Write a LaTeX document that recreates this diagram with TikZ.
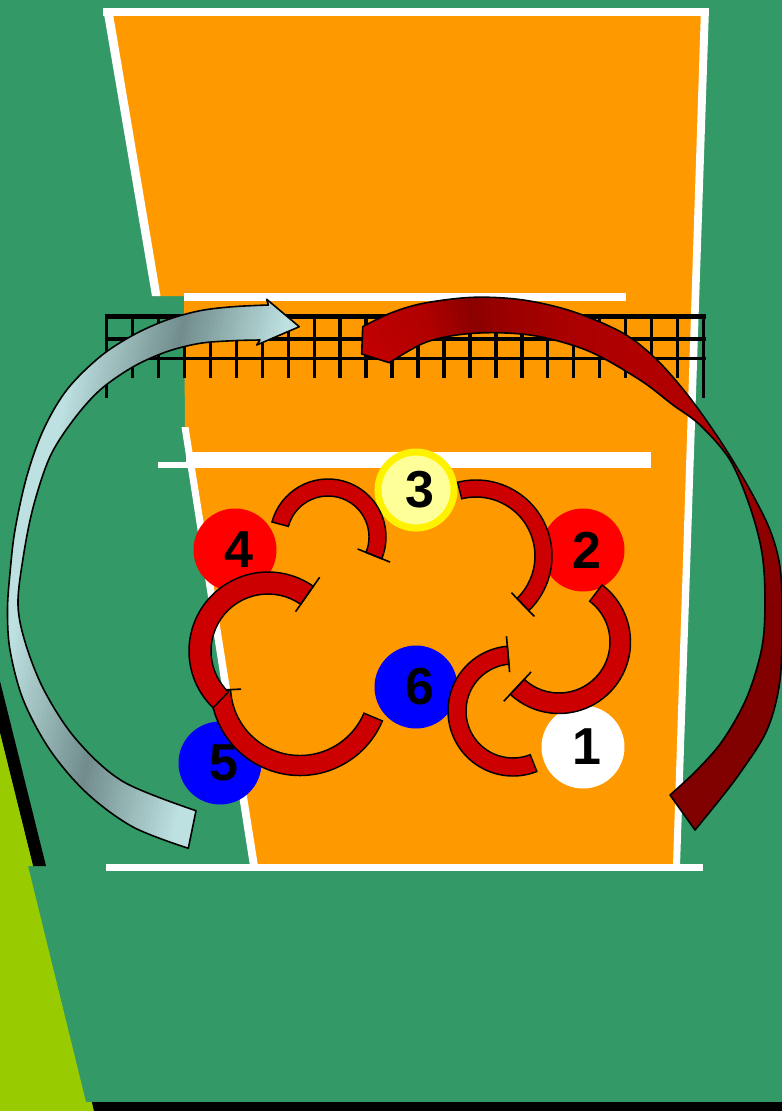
\documentclass[tikz,border=0pt]{standalone}
\usepackage{fontspec}
\setmainfont{Liberation Sans}
\usetikzlibrary{calc}
\definecolor{bggreen}{HTML}{339966}
\definecolor{limegreen}{HTML}{99CC00}
\definecolor{courtorange}{HTML}{FF9900}
\definecolor{arcred}{HTML}{CC0000}
\definecolor{paleyellow}{HTML}{FFFF99}
\definecolor{silverlight}{HTML}{BDE0E0}
\definecolor{silverdark}{HTML}{718C8C}
\definecolor{rA}{HTML}{800000}
\definecolor{rB}{HTML}{820000}
\definecolor{rC}{HTML}{900000}
\definecolor{rD}{HTML}{A00000}
\definecolor{rE}{HTML}{B00000}
\definecolor{rF}{HTML}{AA0000}
\definecolor{rG}{HTML}{9A0000}
\definecolor{rH}{HTML}{8B0000}
\definecolor{rI}{HTML}{C00000}
\definecolor{rJ}{HTML}{C40000}
% band of a rotation arc: cx, cy, r inner, r outer, start angle, end angle (math angles)
\newcommand{\rotband}[6]{%
  \draw[band] ($(#1,#2)+({-(#5)}:#4)$) arc[start angle={-(#5)}, end angle={-(#6)}, radius=#4]
    -- ($(#1,#2)+({-(#6)}:#3)$) arc[start angle={-(#6)}, end angle={-(#5)}, radius=#3] -- cycle;}
% tick at an arc end: cx, cy, angle, r from, r to
\newcommand{\rottick}[5]{%
  \draw[tickline] ($(#1,#2)+({-(#3)}:#4)$) -- ($(#1,#2)+({-(#3)}:#5)$);}
% red gradient wedges: angle from, angle to, colour from, colour to
\newcommand{\redseg}[4]{%
  \foreach \ang in {#1,...,#2}{%
    \pgfmathtruncatemacro\pp{100*(\ang-(#1))/((#2)-(#1))}%
    \fill[#4!\pp!#3] (540,620) -- ({540+700*cos(\ang)},{620-700*sin(\ang)})
      -- ({540+700*cos(\ang+1.5)},{620-700*sin(\ang+1.5)}) -- cycle;}}
\def\leftarrowpath{(188.3,848.3) -- plot[smooth,tension=0.55] coordinates {(188.3,848.3) (133,827) (86.7,793) (50,750) (23.3,700) (10,650) (7.5,610) (10,573) (15,530) (26.7,476.7) (43.3,430) (66.7,390) (100,356.7) (133.3,335) (166.7,320) (200,310.7) (233,306.7) (268.3,305)}
  -- (266.7,299.3) -- (299.3,326.7) -- (256.7,345) -- (260,340)
  -- plot[smooth,tension=0.55] coordinates {(260,340) (233,340.7) (200,343.3) (166.7,351.7) (133.3,366.7) (100,390) (73.3,420) (50,456.7) (33.3,506.7) (23.3,556.7) (18,605) (26,645) (45,692) (76.7,740) (123.3,781.7) (196,810.7)} -- cycle}
\def\redarrowpath{(362.7,326.7) -- plot[smooth,tension=0.55] coordinates {(362.7,326.7) (390,313.3) (423.3,303.3) (473.3,297.3) (523.3,300) (573.3,311.7) (623.3,333.3) (657,360) (690,398) (723,445) (750,490) (770,530) (780,567) (782,613) (780,680) (767,730) (740,773) (717,803) (695,830)}
  -- (670,795)
  -- plot[smooth,tension=0.55] coordinates {(670,795) (697,770) (723,740) (747,697) (762,647) (765,600) (762,553) (750,507) (730,460) (700,425) (673,405) (640,380) (590,351.7) (540,336.7) (496.7,332.7) (456.7,335) (423.3,343.3) (389.3,362.7)}
  -- (361.7,354) -- cycle}
\begin{document}
\begin{tikzpicture}[x=0.75pt,y=-0.75pt,
  band/.style={fill=arcred,draw=black,line width=1.1pt,line join=miter},
  tickline/.style={draw=black,line width=1.2pt},
  player/.style={circle,minimum size=62.25pt,inner sep=0pt,font=\fontsize{39}{42}\selectfont\bfseries},
  netline/.style={line width=2.5pt,draw=black},
  arrowline/.style={draw=black,line width=1.2pt,line join=round}]
\useasboundingbox (0,0) rectangle (782,1111);
% background
\fill[bggreen] (0,0) rectangle (782,1111);
\fill[black] (0,681) -- (46,866) -- (33,866) -- (0,733) -- cycle;
\fill[limegreen] (0,733) -- (33,866) -- (28,866) -- (86,1102) -- (92,1102) -- (94,1111) -- (0,1111) -- cycle;
\fill[black] (92,1102) -- (782,1102) -- (782,1111) -- (94,1111) -- cycle;
% court
\fill[courtorange] (108,12) -- (705,12) -- (676.5,866) -- (254,866) -- (185,427) -- (184,296) -- (156,296) -- cycle;
\fill[white] (103,8) rectangle (709,16);
\fill[white] (103,8) -- (112,8) -- (160.5,296) -- (152,296) -- cycle;
\fill[white] (701,8) -- (709,8) -- (680,866) -- (673,866) -- cycle;
\fill[white] (181.5,427) -- (188.5,427) -- (258,866) -- (250,866) -- cycle;
\fill[white] (106,864) rectangle (703,871);
\fill[white] (184,293) rectangle (626,301);
\fill[white] (186,452) rectangle (651,468);
\fill[white] (158,462) rectangle (187,468);
% net
\foreach \k in {1,...,22} \draw[netline] ({106.5+\k*25.96},314) -- ({106.5+\k*25.96},378);
\draw[netline] (106.5,314) -- (106.5,398);
\draw[netline] (703.5,314) -- (703.5,398);
\draw[line width=3.75pt] (104.5,316.8) -- (705.5,316.8);
\draw[line width=3.2pt] (104.5,339.3) -- (705.5,339.3);
\draw[line width=2.6pt] (104.5,358.5) -- (705.5,358.5);
% left (silver) arrow
\begin{scope}
  \clip \leftarrowpath;
  \foreach \d in {-240,-236,...,220}{%
    \pgfmathtruncatemacro\pp{min(100,abs(\d))}%
    \fill[silverlight!\pp!silverdark] ({180+0.977*\d+192.6},{330+0.214*\d-879.3})
      -- ({180+0.977*(\d+5)+192.6},{330+0.214*(\d+5)-879.3})
      -- ({180+0.977*(\d+5)-192.6},{330+0.214*(\d+5)+879.3})
      -- ({180+0.977*\d-192.6},{330+0.214*\d+879.3}) -- cycle;}
\end{scope}
\draw[arrowline] \leftarrowpath;
% right (red) arrow
\begin{scope}
  \clip \redarrowpath;
  \redseg{-80}{0}{rA}{rB}
  \redseg{0}{21}{rB}{rC}
  \redseg{21}{35}{rC}{rD}
  \redseg{35}{50}{rD}{rE}
  \redseg{50}{70}{rE}{rE}
  \redseg{70}{84}{rE}{rF}
  \redseg{84}{96}{rF}{rG}
  \redseg{96}{102}{rG}{rH}
  \redseg{102}{110}{rH}{rE}
  \redseg{110}{121}{rE}{rI}
  \redseg{121}{145}{rI}{rJ}
\end{scope}
\draw[arrowline] \redarrowpath;
% players
\node[player,fill=red] (p4) at (235,550) {\hspace*{6pt}4};
\node[player,fill=red] (p2) at (583,550) {\hspace*{6pt}2};
\node[player,fill=blue] (p6) at (416,687) {\hspace*{6pt}6};
\node[player,fill=white] (p1) at (583,747) {\hspace*{6pt}1};
\node[player,fill=blue] (p5) at (220,763) {\hspace*{6pt}5};
\node[player,fill=paleyellow,draw=yellow,line width=5.25pt,minimum size=57pt] (p3) at (416,490) {\hspace*{6pt}3};
% rotation arcs
\rotband{328}{537}{41}{58}{165}{-22}
\rottick{328}{537}{-22}{32}{67}
\rotband{476}{556}{59}{76}{104}{-46}
\rottick{476}{556}{-46}{51}{84}
\rotband{559}{642}{51}{71.5}{53}{-133}
\rottick{559}{642}{-133}{41}{81}
\rotband{513}{711}{47}{65}{-68.5}{-265}
\rottick{513}{711}{-265}{39}{75}
\rotband{300}{686}{69.5}{89.5}{-23}{-177}
\rottick{300}{686}{-177}{59}{97}
\rotband{268}{651}{57}{79}{226}{55}
\rottick{268}{651}{55}{48}{90}
\end{tikzpicture}
\end{document}
